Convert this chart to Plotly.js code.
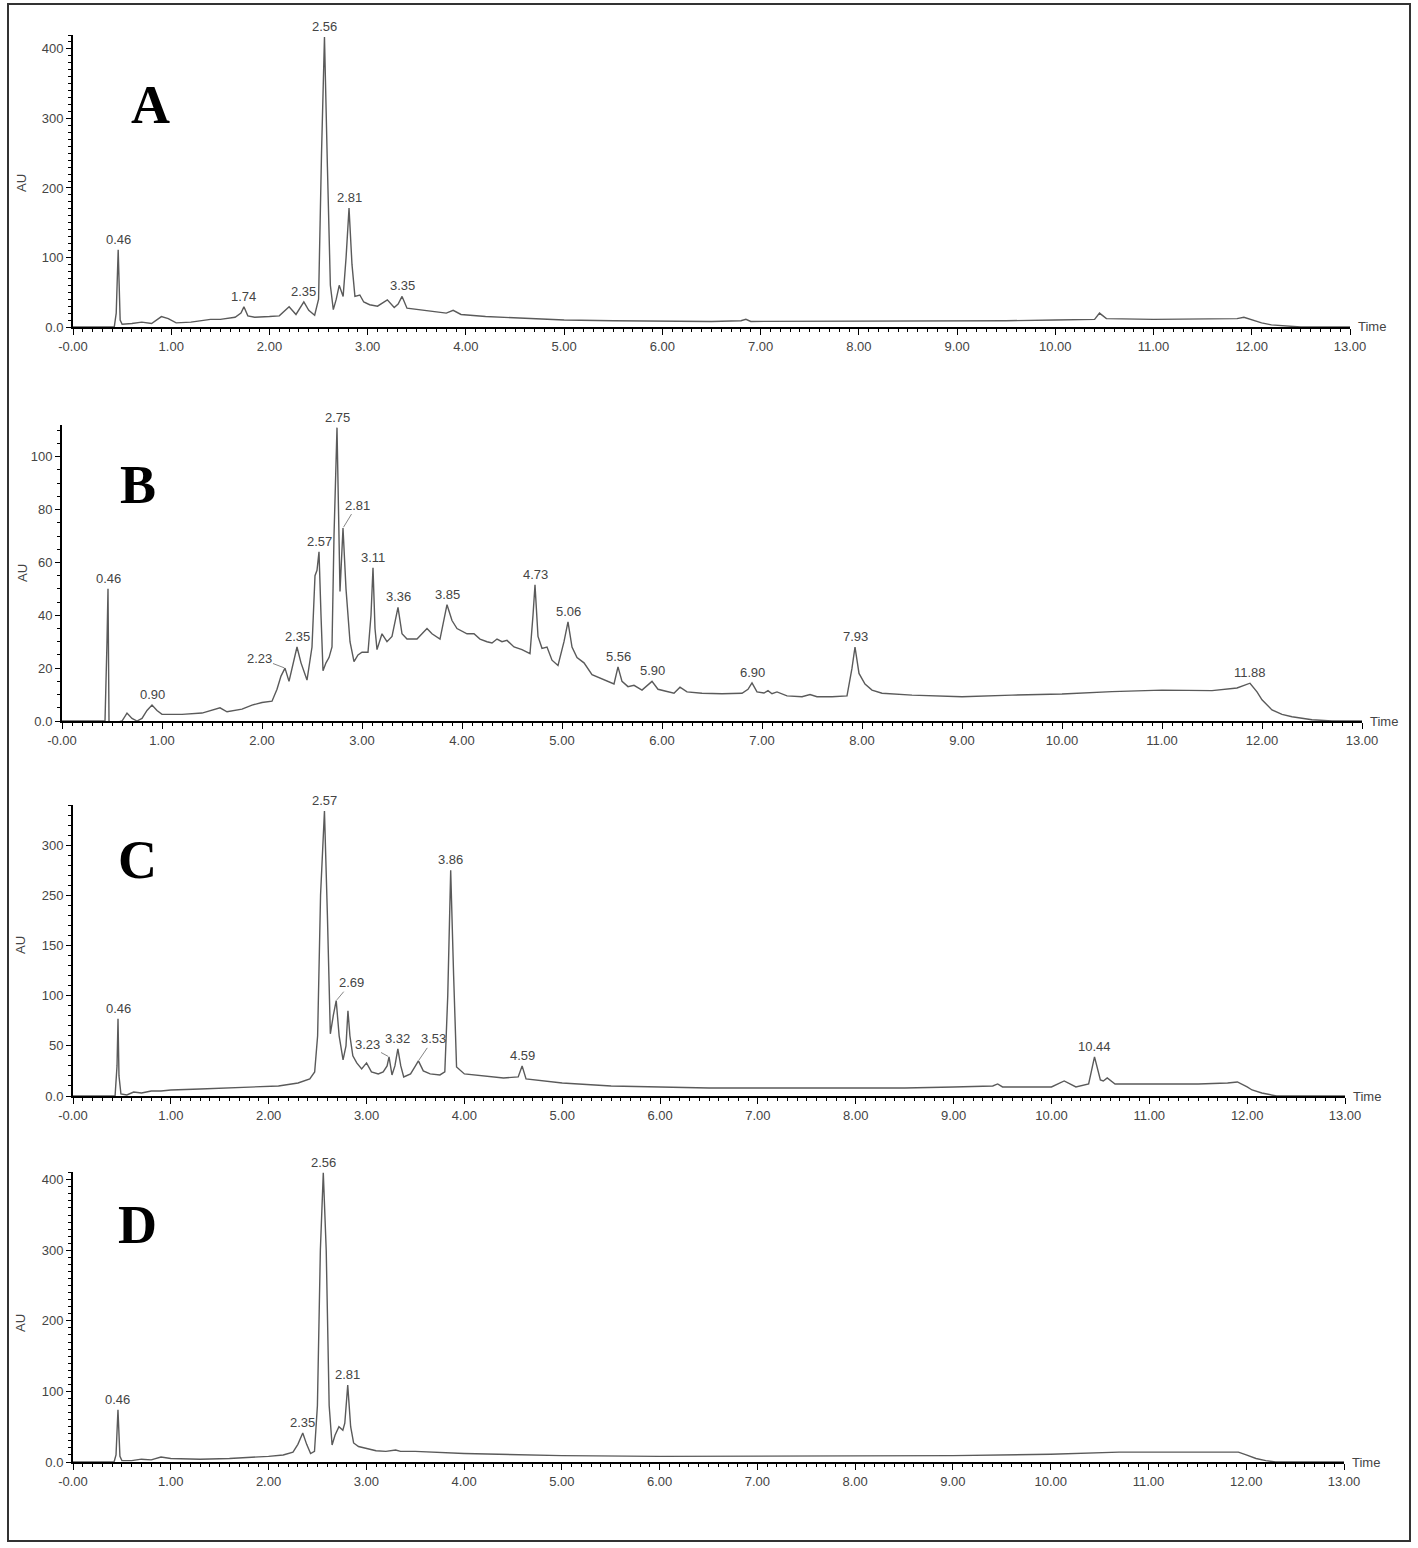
<!DOCTYPE html>
<html>
<head>
<meta charset="utf-8">
<script src="https://cdn.plot.ly/plotly-3.0.1.min.js"></script>
<style>
  body { margin: 0; background: #fff; }
  #chart { width: 1418px; height: 1548px; }
</style>
</head>
<body>
<div id="chart"></div>
<script>
// chromatograms, [time (min), AU]
const traceA = [
  [0, 0], [0.42, 0], [0.44, 20], [0.46, 111], [0.48, 10], [0.5, 4], [0.6, 5], [0.7, 7], [0.8, 5],
  [0.9, 15], [0.97, 12], [1.05, 6], [1.2, 7], [1.4, 11], [1.5, 11], [1.65, 14], [1.71, 20], [1.74, 29],
  [1.78, 16], [1.85, 14], [2.0, 15], [2.1, 16], [2.2, 29], [2.27, 18], [2.35, 36], [2.4, 24], [2.46, 17],
  [2.5, 40], [2.53, 250], [2.56, 417], [2.59, 230], [2.62, 60], [2.65, 25], [2.68, 40], [2.71, 60],
  [2.75, 44], [2.78, 100], [2.81, 171], [2.84, 90], [2.87, 44], [2.92, 46], [2.96, 36], [3.02, 32],
  [3.1, 30], [3.2, 39], [3.27, 28], [3.31, 33], [3.35, 44], [3.4, 27], [3.5, 25], [3.65, 22], [3.8, 20],
  [3.87, 24], [3.95, 18], [4.2, 15], [4.5, 13], [5.0, 10], [5.5, 9], [6.0, 8], [6.5, 8], [6.8, 9],
  [6.85, 11], [6.9, 8], [7.5, 8], [8.0, 8], [8.5, 9], [9.0, 9], [9.5, 9], [10.0, 10], [10.4, 11],
  [10.45, 20], [10.52, 12], [11.0, 11], [11.5, 11], [11.85, 12], [11.92, 14], [12.0, 10], [12.1, 6],
  [12.2, 3], [12.35, 1], [12.5, 0], [13, 0]
];
const traceB = [
  [0, 0], [0.43, 0], [0.45, 30], [0.46, 50], [0.47, 0], [0.5, -1], [0.6, 0], [0.65, 3], [0.7, 1],
  [0.75, 0], [0.8, 1], [0.85, 4], [0.9, 6], [0.95, 4], [1.0, 2.5], [1.2, 2.5], [1.4, 3], [1.5, 4],
  [1.58, 5], [1.65, 3.5], [1.8, 4.5], [1.9, 6], [2.0, 7], [2.1, 7.5], [2.15, 12], [2.19, 17], [2.23, 20],
  [2.27, 15], [2.31, 22], [2.35, 28], [2.39, 22], [2.45, 15.5], [2.5, 28], [2.53, 55], [2.55, 57],
  [2.57, 64], [2.59, 40], [2.61, 19], [2.64, 22], [2.67, 24], [2.7, 28], [2.72, 70], [2.75, 111],
  [2.77, 60], [2.78, 49], [2.81, 73], [2.84, 50], [2.88, 30], [2.92, 22.5], [2.96, 25], [3.0, 26],
  [3.06, 26], [3.09, 40], [3.11, 58], [3.13, 35], [3.15, 27], [3.2, 33], [3.25, 30], [3.3, 32],
  [3.36, 43], [3.4, 33], [3.45, 31], [3.55, 31], [3.6, 33], [3.65, 35], [3.7, 33], [3.78, 31],
  [3.85, 44], [3.9, 38], [3.95, 35], [4.05, 33], [4.12, 33], [4.18, 31], [4.25, 30], [4.3, 29.5],
  [4.35, 31], [4.4, 30], [4.45, 30.5], [4.52, 28], [4.6, 27], [4.68, 25.5], [4.71, 40], [4.73, 51.5],
  [4.76, 32], [4.8, 27.5], [4.85, 28], [4.9, 23], [4.96, 21], [5.02, 30], [5.06, 37.5], [5.1, 28],
  [5.15, 24], [5.22, 22], [5.3, 17.5], [5.4, 16], [5.52, 14], [5.56, 20.5], [5.6, 15], [5.66, 13],
  [5.72, 13.5], [5.8, 11.7], [5.9, 15], [5.96, 12], [6.05, 11], [6.12, 10.5], [6.18, 12.8], [6.25, 11],
  [6.4, 10.5], [6.6, 10.3], [6.8, 10.5], [6.86, 12], [6.9, 14.4], [6.95, 11], [7.02, 10.6], [7.06, 11.5],
  [7.1, 10.3], [7.15, 11], [7.25, 9.5], [7.4, 9.2], [7.48, 10], [7.55, 9.2], [7.7, 9.2], [7.85, 9.5],
  [7.9, 20], [7.93, 28], [7.97, 18], [8.03, 14], [8.1, 11.7], [8.2, 10.5], [8.5, 9.8], [9.0, 9.2],
  [9.5, 9.8], [10.0, 10.2], [10.5, 11.1], [11.0, 11.7], [11.5, 11.5], [11.75, 12.5], [11.88, 14.3],
  [11.95, 11], [12.0, 8], [12.1, 4.2], [12.2, 2.5], [12.3, 1.6], [12.5, 0.5], [12.7, 0], [13, 0]
];
const traceC = [
  [0, 0], [0.43, 0], [0.45, 30], [0.46, 77], [0.47, 20], [0.49, 2], [0.55, 1], [0.62, 4], [0.7, 3],
  [0.8, 5], [0.9, 5], [1.0, 6], [1.3, 7], [1.6, 8], [1.9, 9], [2.1, 10], [2.3, 13], [2.42, 17],
  [2.47, 24], [2.5, 60], [2.53, 200], [2.57, 284], [2.6, 180], [2.63, 62], [2.66, 80], [2.69, 95],
  [2.72, 60], [2.76, 36], [2.79, 50], [2.81, 85], [2.83, 60], [2.86, 40], [2.9, 33], [2.95, 27],
  [3.0, 33], [3.05, 24], [3.12, 22], [3.17, 24], [3.21, 30], [3.23, 39], [3.26, 21], [3.29, 30],
  [3.32, 47], [3.35, 30], [3.38, 19], [3.45, 22], [3.5, 30], [3.53, 35], [3.58, 25], [3.65, 22],
  [3.75, 21], [3.8, 24], [3.83, 100], [3.86, 225], [3.89, 120], [3.92, 29], [4.0, 22], [4.2, 20],
  [4.4, 18], [4.55, 19], [4.59, 30], [4.63, 17], [4.8, 15], [5.0, 13], [5.5, 10], [6.0, 9], [6.5, 8],
  [7.0, 8], [7.5, 8], [8.0, 8], [8.5, 8], [9.0, 9], [9.4, 10], [9.45, 12], [9.5, 9], [10.0, 9],
  [10.13, 15], [10.25, 9], [10.38, 12], [10.44, 39], [10.5, 16], [10.53, 15], [10.57, 18], [10.65, 12],
  [11.0, 12], [11.5, 12], [11.8, 13], [11.9, 14], [12.0, 9], [12.05, 6], [12.15, 3], [12.3, 0], [13, 0]
];
const traceD = [
  [0, 0], [0.42, 0], [0.44, 10], [0.46, 74], [0.48, 8], [0.5, 2], [0.6, 2], [0.7, 4], [0.8, 3],
  [0.9, 7], [1.0, 5], [1.3, 4], [1.6, 5], [1.9, 7], [2.0, 8], [2.15, 10], [2.25, 14], [2.3, 25],
  [2.35, 41], [2.39, 25], [2.43, 12], [2.47, 15], [2.5, 80], [2.53, 300], [2.56, 410], [2.59, 300],
  [2.62, 80], [2.65, 24], [2.68, 38], [2.72, 50], [2.76, 45], [2.78, 55], [2.81, 109], [2.84, 50],
  [2.87, 27], [2.92, 22], [3.0, 19], [3.1, 16], [3.2, 15], [3.3, 17], [3.35, 15], [3.5, 15], [4.0, 12],
  [4.5, 10], [5.0, 9], [6.0, 8], [7.0, 8], [7.9, 9], [8.0, 8], [9.0, 9], [10.0, 11], [10.7, 14],
  [11.0, 14], [11.5, 14], [11.85, 15], [11.92, 14], [12.0, 10], [12.1, 5], [12.2, 2], [12.3, 0], [13, 0]
];

// labelled retention times
const peaksA = [0.46, 1.74, 2.35, 2.56, 2.81, 3.35];
const peaksB = [0.46, 0.90, 2.23, 2.35, 2.57, 2.75, 2.81, 3.11, 3.36, 3.85, 4.73, 5.06, 5.56, 5.90, 6.90, 7.93, 11.88];
const peaksC = [0.46, 2.57, 2.69, 3.23, 3.32, 3.53, 3.86, 4.59, 10.44];
const peaksD = [0.46, 2.35, 2.56, 2.81];

const timeTicks = [0, 1, 2, 3, 4, 5, 6, 7, 8, 9, 10, 11, 12, 13];
const timeTickText = ["-0.00", "1.00", "2.00", "3.00", "4.00", "5.00", "6.00", "7.00", "8.00", "9.00", "10.00", "11.00", "12.00", "13.00"];
const auTicksA = [0, 100, 200, 300, 400];
const auTextA = ["0.0", "100", "200", "300", "400"];
const auTicksB = [0, 20, 40, 60, 80, 100];
const auTextB = ["0.0", "20", "40", "60", "80", "100"];
const auTicksC = [0, 50, 100, 150, 200, 250];
const auTextC = ["0.0", "50", "100", "150", "250", "300"];

const W = 1418, H = 1548;
const px = x => x / W;
const py = y => 1 - y / H;

// plot boxes in pixels: left, right, top, bottom
const panels = [
  { letter: "A", data: traceA, peaks: peaksA, yt: auTicksA, ytt: auTextA, yTop: 420, minor: 10,
    box: [73, 1350, 35, 327], letterAt: [150, 105], auAt: [22, 183], leaders: {} },
  { letter: "B", data: traceB, peaks: peaksB, yt: auTicksB, ytt: auTextB, yTop: 112, minor: 5,
    box: [62, 1362, 425, 721], letterAt: [138, 485], auAt: [22, 573],
    leaders: { "2.81": [14, -23], "2.23": [-26, -10] } },
  { letter: "C", data: traceC, peaks: peaksC, yt: auTicksC, ytt: auTextC, yTop: 290, minor: 10,
    box: [73, 1345, 805, 1096], letterAt: [137, 860], auAt: [20, 945],
    leaders: { "2.69": [15, -18], "3.23": [-22, -12], "3.53": [15, -22] } },
  { letter: "D", data: traceD, peaks: peaksD, yt: auTicksA, ytt: auTextA, yTop: 411, minor: 10,
    box: [73, 1344, 1172, 1462], letterAt: [137, 1225], auAt: [20, 1323], leaders: {} }
];

const tickFont = { family: "Liberation Sans, Arial, sans-serif", size: 13, color: "#444" };
const data = [];
const annotations = [];
const layout = {
  width: W, height: H, autosize: false,
  margin: { l: 0, r: 0, t: 0, b: 0 },
  paper_bgcolor: "#fff", plot_bgcolor: "#fff",
  showlegend: false,
  font: tickFont,
  shapes: [{
    type: "rect", xref: "paper", yref: "paper",
    x0: px(8), x1: px(1410), y0: py(1541), y1: py(4),
    line: { color: "#333", width: 2 }
  }]
};

panels.forEach((p, i) => {
  const n = i === 0 ? "" : String(i + 1);
  const xa = "x" + n, ya = "y" + n;
  const [l, r, t, b] = p.box;

  data.push({
    type: "scatter", mode: "lines",
    x: p.data.map(d => d[0]), y: p.data.map(d => d[1]),
    xaxis: xa, yaxis: ya,
    line: { color: "#5a5a5a", width: 1.4 },
    hoverinfo: "skip"
  });

  layout["xaxis" + n] = {
    domain: [px(l), px(r)], anchor: ya, range: [0, 13],
    showgrid: false, zeroline: false, showline: true, linecolor: "#000", linewidth: 2,
    tickmode: "array", tickvals: timeTicks, ticktext: timeTickText,
    ticks: "outside", ticklen: 6, tickwidth: 1, tickcolor: "#000", tickfont: tickFont,
    minor: { ticks: "outside", tick0: 0, dtick: 0.1, ticklen: 3, tickcolor: "#000", tickwidth: 1 },
    fixedrange: true
  };
  layout["yaxis" + n] = {
    domain: [py(b), py(t)], anchor: xa, range: [0, p.yTop],
    showgrid: false, zeroline: false, showline: true, linecolor: "#000", linewidth: 2,
    tickmode: "array", tickvals: p.yt, ticktext: p.ytt,
    ticks: "outside", ticklen: 5, tickwidth: 1, tickcolor: "#000", tickfont: tickFont,
    minor: { ticks: "outside", tick0: 0, dtick: p.minor, ticklen: 3, tickcolor: "#000", tickwidth: 1 },
    fixedrange: true
  };

  // peak labels sit on top of the trace apex
  p.peaks.forEach(tm => {
    let best = p.data[0];
    p.data.forEach(d => { if (Math.abs(d[0] - tm) < Math.abs(best[0] - tm)) best = d; });
    const txt = tm.toFixed(2);
    const lead = p.leaders[txt];
    const ann = { x: best[0], y: best[1], xref: xa, yref: ya, text: txt, font: tickFont };
    if (lead) {
      Object.assign(ann, { showarrow: true, arrowhead: 0, arrowwidth: 0.8, arrowcolor: "#666",
        ax: lead[0], ay: lead[1], standoff: 1 });
    } else {
      Object.assign(ann, { showarrow: false, xanchor: "center", yanchor: "bottom", yshift: 1 });
    }
    annotations.push(ann);
  });

  annotations.push({
    xref: "paper", yref: "paper", x: px(p.letterAt[0]), y: py(p.letterAt[1]),
    xanchor: "center", yanchor: "middle",
    text: "<b>" + p.letter + "</b>", showarrow: false,
    font: { family: "Liberation Serif, Times New Roman, serif", size: 54, color: "#000" }
  });
  annotations.push({
    xref: "paper", yref: "paper", x: px(p.auAt[0]), y: py(p.auAt[1]),
    xanchor: "center", yanchor: "middle",
    text: "AU", textangle: -90, showarrow: false, font: tickFont
  });
  annotations.push({
    xref: "paper", yref: "paper", x: px(r + 6), y: py(b),
    xanchor: "left", yanchor: "middle", text: "Time", showarrow: false, font: tickFont
  });
});

layout.annotations = annotations;
Plotly.newPlot("chart", data, layout, { staticPlot: true });
</script>
</body>
</html>
